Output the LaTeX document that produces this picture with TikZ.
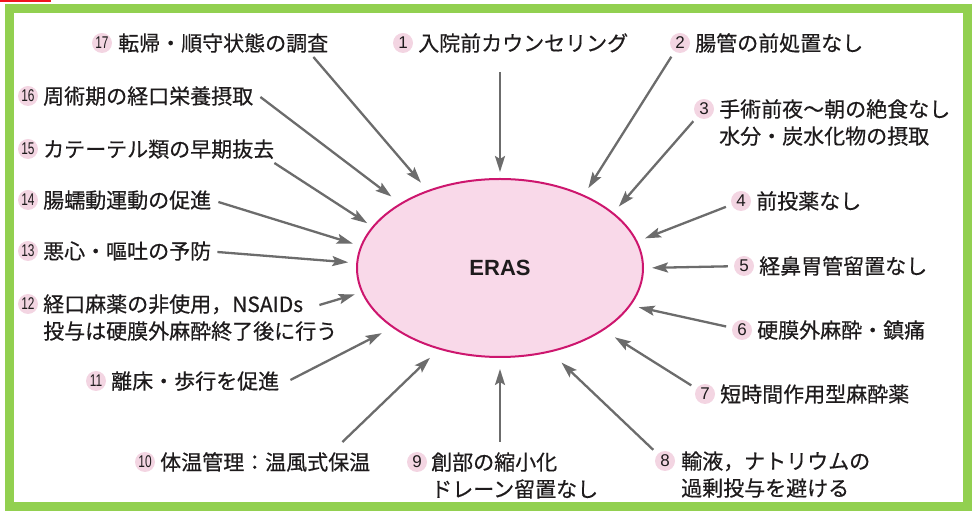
\documentclass[tikz,border=0pt]{standalone}
\usepackage{fontspec}
\setmainfont{Noto Sans CJK JP}[FakeBold=0.5]
\newfontfamily\erasfont{Liberation Sans}
\usetikzlibrary{shapes.geometric,arrows.meta}
\definecolor{framegreen}{RGB}{146,208,80}
\definecolor{cutred}{RGB}{240,20,30}
\definecolor{erasfill}{RGB}{249,217,233}
\definecolor{erasline}{RGB}{205,22,110}
\definecolor{numpink}{RGB}{243,213,226}
\definecolor{arrgray}{RGB}{108,108,108}
\definecolor{ink}{RGB}{30,27,28}
\newcommand{\twodig}[1]{\scalebox{0.7}[1]{#1}}
\tikzset{
	erasnode/.style={ellipse,draw=erasline,line width=2pt,fill=erasfill,minimum width=286pt,minimum height=178pt,inner sep=0pt,text=ink,font=\erasfont\bfseries\fontsize{22}{22}\selectfont},
	numb/.style={circle,fill=numpink,minimum size=20pt,inner sep=0pt,text=ink,font=\erasfont\fontsize{17}{17}\selectfont},
	lbl/.style={anchor=base west,inner sep=0pt,align=left,text=ink,font=\fontsize{21}{27}\selectfont},
	arr/.style={draw=arrgray,line width=2.3pt,-{Stealth[length=16pt,width=10pt,inset=3pt]},shorten >=8pt},
	numarr/.style={arr,shorten <=6pt}
}
\begin{document}
\begin{tikzpicture}[x=1pt,y=1pt]
	\useasboundingbox (0,0) rectangle (975,511);
	\fill[cutred] (0,508.5) rectangle (51,511);
	\draw[framegreen,line width=9pt] (9.5,4) rectangle (967.5,502);
	% centre
	\node[erasnode] (eras) at (500,243) {ERAS};
	% labels, clockwise from the top (two-line labels sit on their last baseline)
	\node[numb] (n1) at (403,468) {1};
	\node[lbl] (t1) at (418,460) {入院前カウンセリング};
	\node[numb] (n2) at (680,468) {2};
	\node[lbl] (t2) at (695,460) {腸管の前処置なし};
	\node[numb] (n3) at (704,402) {3};
	\node[lbl] (t3) at (719,367) {手術前夜〜朝の絶食なし\\水分・炭水化物の摂取};
	\node[numb] (n4) at (741,310) {4};
	\node[lbl] (t4) at (756,302) {前投薬なし};
	\node[numb] (n5) at (744,245) {5};
	\node[lbl] (t5) at (759,237) {経鼻胃管留置なし};
	\node[numb] (n6) at (742,181) {6};
	\node[lbl] (t6) at (757,173) {硬膜外麻酔・鎮痛};
	\node[numb] (n7) at (705,117) {7};
	\node[lbl] (t7) at (720,109) {短時間作用型麻酔薬};
	\node[numb] (n8) at (665,50) {8};
	\node[lbl] (t8) at (681,15) {輸液，ナトリウムの\\過剰投与を避ける};
	\node[numb] (n9) at (417,49) {9};
	\node[lbl] (t9) at (431,14) {創部の縮小化\\ドレーン留置なし};
	\node[numb] (n10) at (145,49) {\twodig{10}};
	\node[lbl] (t10) at (160,41) {体温管理：温風式保温};
	\node[numb] (n11) at (96,130) {\twodig{11}};
	\node[lbl] (t11) at (111,122) {離床・歩行を促進};
	\node[numb] (n12) at (28,207) {\twodig{12}};
	\node[lbl] (t12) at (43,172) {経口麻薬の非使用，NSAIDs\\投与は硬膜外麻酔終了後に行う};
	\node[numb] (n13) at (28,260) {\twodig{13}};
	\node[lbl] (t13) at (43,252) {悪心・嘔吐の予防};
	\node[numb] (n14) at (28,311) {\twodig{14}};
	\node[lbl] (t14) at (43,303) {腸蠕動運動の促進};
	\node[numb] (n15) at (28,362) {\twodig{15}};
	\node[lbl] (t15) at (43,354) {カテーテル類の早期抜去};
	\node[numb] (n16) at (28,415) {\twodig{16}};
	\node[lbl] (t16) at (43,407) {周術期の経口栄養摂取};
	\node[numb] (n17) at (102,468) {\twodig{17}};
	\node[lbl] (t17) at (118,460) {転帰・順守状態の調査};
	% arrows into the ellipse
	\draw[arr,shorten <=21pt,shorten >=6pt] (t1.base -| eras.north) -- (eras.north);
	\draw[numarr] (n2) -- (eras.41);
	\draw[numarr] (n3) -- (eras.26);
	\draw[numarr] (n4) -- (eras.11);
	\draw[numarr] (n5) -- (eras.0);
	\draw[numarr] (n6) -- (eras.-16);
	\draw[numarr,shorten >=13pt] (n7) -- (eras.-31);
	\draw[numarr,shorten >=15pt] (n8) -- (eras.-59);
	\draw[arr,shorten <=55pt,shorten >=11pt] (t9.base -| eras.south) -- (eras.south);
	\draw[arr,shorten >=12pt] ([xshift=-28pt,yshift=28pt]t10.base east) -- (eras.233);
	\draw[arr,shorten >=12pt] ([xshift=11pt,yshift=9pt]t11.base east) -- (eras.209);
	\draw[arr,shorten >=7pt] ([xshift=-18pt,yshift=34pt]t12.base east) -- (eras.190);
	\draw[arr] ([xshift=6pt,yshift=7pt]t13.base east) -- (eras.178);
	\draw[arr] ([xshift=7pt,yshift=6pt]t14.base east) -- (eras.171);
	\draw[arr,shorten >=6pt] ([yshift=-6pt]t15.base east) -- (eras.162);
	\draw[arr,shorten >=11pt] ([xshift=7pt,yshift=7pt]t16.base east) -- (eras.147);
	\draw[arr,shorten >=10pt] ([xshift=-15pt,yshift=-6pt]t17.base east) -- (eras.133);
\end{tikzpicture}
\end{document}
